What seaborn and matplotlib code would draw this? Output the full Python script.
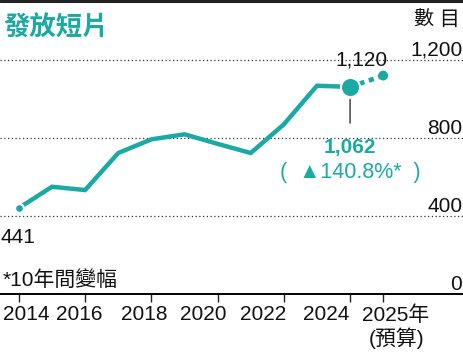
import numpy as np
import pandas as pd
import matplotlib
matplotlib.use('Agg')
import matplotlib.pyplot as plt
import seaborn as sns
from matplotlib.lines import Line2D

# 發放短片數目 (2025 = 預算)
years = [2014, 2015, 2016, 2017, 2018, 2019, 2020, 2021, 2022, 2023, 2024, 2025]
counts = [441, 550, 533, 723, 793, 819, 770, 723, 870, 1068, 1062, 1120]
tick_years = [2014, 2016, 2018, 2020, 2022, 2024, 2025]
tick_labels = ['2014', '2016', '2018', '2020', '2022', '2024', '2025年\n(預算)']
label_pos = [2014.21, 2015.81, 2017.78, 2019.56, 2021.37, 2023.27, 2025.39]
y_grid = [0, 400, 800, 1200]

teal = '#1aaaa3'

sns.set_theme(style='white')
plt.rcParams['font.family'] = ['Liberation Sans', 'Noto Sans CJK TC']

df = pd.DataFrame({'year': years, 'count': counts})
actual = df[df.year <= 2024]
budget = df[df.year >= 2024]

fig = plt.figure(figsize=(4.64, 3.54), dpi=100)
ax = fig.add_axes([0, 60 / 354, 1, 253.5 / 354])
ax.set_xlim(2013.43, 2027.44)
ax.set_ylim(0, 1300)

sns.lineplot(data=actual, x='year', y='count', color=teal, linewidth=3.2, ax=ax,
             solid_joinstyle='miter')
sns.lineplot(data=budget, x='year', y='count', color=teal, linewidth=3.4, ax=ax,
             linestyle=(0, (1.1, 1.0)), dash_capstyle='butt')
sns.scatterplot(data=df.iloc[[0]], x='year', y='count', color=teal, s=40,
                edgecolor='white', linewidth=1.5, ax=ax, zorder=5)
sns.scatterplot(data=df[df.year == 2024], x='year', y='count', color=teal, s=190,
                edgecolor='white', linewidth=1.5, ax=ax, zorder=5)
sns.scatterplot(data=df[df.year == 2025], x='year', y='count', color=teal, s=50,
                edgecolor='none', ax=ax, zorder=5)

# grid + axis
ax.set_yticks(y_grid)
ax.yaxis.grid(True, linestyle=(0, (1, 2)), color='#333333', linewidth=0.9)
ax.tick_params(axis='y', length=0, labelleft=False)
for s in ['top', 'left', 'right']:
    ax.spines[s].set_visible(False)
ax.spines['bottom'].set_color('black')
ax.spines['bottom'].set_linewidth(1.4)
ax.set_axisbelow(True)

ax.set_xticks(tick_years)
ax.set_xticklabels([''] * len(tick_years))
ax.tick_params(axis='x', which='major', direction='out', length=6, width=1,
               color='#222222', bottom=True)
ax.set_xticks(label_pos, minor=True)
ax.set_xticklabels(tick_labels, minor=True, fontsize=15, color='#111111',
                   linespacing=1.15)
ax.tick_params(axis='x', which='minor', length=0, pad=8, bottom=True)
ax.set_xlabel('')
ax.set_ylabel('')

ytr = ax.get_yaxis_transform()
for v in y_grid:
    ax.text(0.996, v + 22, f'{v:,}', transform=ytr, ha='right', va='baseline',
            fontsize=15, color='#111111')

# annotations
ax.annotate(f'{counts[-1]:,}', xy=(years[-1], counts[-1]), xytext=(-15.5, 7.2),
            textcoords='offset points', ha='center', va='baseline', fontsize=15,
            color='#111111')
ax.annotate(f'{counts[-2]:,}', xy=(years[-2], counts[-2]), xytext=(0, -47.5),
            textcoords='offset points', ha='center', va='baseline', fontsize=15,
            fontweight='bold', color=teal)
pct = (counts[-2] / counts[0] - 1) * 100
ax.annotate(f'(  ▲{pct:.1f}%*  )', xy=(years[-2], counts[-2]), xytext=(0, -65.5),
            textcoords='offset points', ha='center', va='baseline', fontsize=15.5,
            color=teal)
ax.annotate('', xy=(years[-2], counts[-2] - 200), xytext=(years[-2], counts[-2] - 50),
            arrowprops=dict(arrowstyle='-', color='#333333', lw=1))
ax.annotate(f'{counts[0]}', xy=(years[0], counts[0]), xytext=(-13.5, -25),
            textcoords='offset points', ha='left', va='baseline', fontsize=15,
            color='#111111')

fig.text(3 / 464, 1 - 36 / 354, '發放短片', fontsize=19, fontweight='bold',
         color=teal, ha='left', va='baseline')
fig.text(460 / 464, 1 - 25 / 354, '數 目', fontsize=14.5, color='#111111',
         ha='right', va='baseline')
fig.text(3 / 464, 1 - 286 / 354, '*10年間變幅', fontsize=15, color='#111111',
         ha='left', va='baseline')
fig.add_artist(Line2D([0, 1], [1 - 1 / 354, 1 - 1 / 354], color='#222222', lw=2.2))

fig.savefig('out.png', dpi=100)
